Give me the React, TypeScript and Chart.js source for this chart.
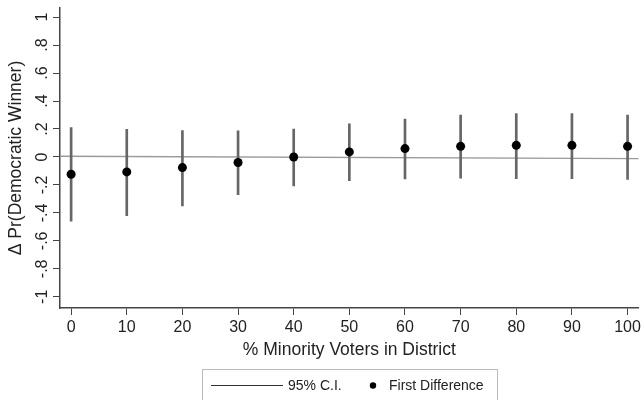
import React, { useEffect, useRef } from "react";
import { Chart, registerables } from "chart.js";
Chart.register(...registerables);

const minorityPct = [0, 10, 20, 30, 40, 50, 60, 70, 80, 90, 100];
const firstDiff = [-0.124, -0.107, -0.076, -0.04, 0.0, 0.036, 0.06, 0.076, 0.083, 0.083, 0.076];
const ciLow = [-0.46, -0.42, -0.35, -0.27, -0.207, -0.17, -0.157, -0.152, -0.155, -0.155, -0.16];
const ciHigh = [0.21, 0.198, 0.188, 0.186, 0.2, 0.236, 0.27, 0.3, 0.31, 0.31, 0.3];
const refLineX = [-2, 102];
const refLineY = [0.005, -0.012];
const xTickValues = [0, 10, 20, 30, 40, 50, 60, 70, 80, 90, 100];
const yTickValues = [-1, -0.8, -0.6, -0.4, -0.2, 0, 0.2, 0.4, 0.6, 0.8, 1];
const yTickLabels = ["-1", "-.8", "-.6", "-.4", "-.2", "0", ".2", ".4", ".6", ".8", "1"];
const legendLabels = ["95% C.I.", "First Difference"];
const xTitle = "% Minority Voters in District";
const yTitle = "\u0394 Pr(Democratic Winner)";

const FONT = "'Liberation Sans', Arial, sans-serif";
const AXIS = "#444";

export default function App() {
  const ref = useRef<HTMLCanvasElement | null>(null);
  useEffect(() => {
    document.body.style.margin = "0";
    const canvas = ref.current!;
    const overlay = {
      id: "overlay",
      afterDraw(chart: any) {
        const ctx = chart.ctx;
        const ys = chart.scales.y;
        const area = chart.chartArea;
        ctx.save();
        ctx.fillStyle = "#222";
        ctx.font = `16px ${FONT}`;
        ctx.textAlign = "center";
        ctx.textBaseline = "middle";
        yTickValues.forEach((v, i) => {
          const py = ys.getPixelForValue(v);
          ctx.save();
          ctx.translate(43, py);
          ctx.rotate(-Math.PI / 2);
          ctx.fillText(yTickLabels[i], 0, 0);
          ctx.restore();
        });
        // y title
        ctx.font = `17.5px ${FONT}`;
        ctx.save();
        ctx.translate(16, (area.top + area.bottom) / 2);
        ctx.rotate(-Math.PI / 2);
        ctx.fillText(yTitle, 0, 0);
        ctx.restore();
        // x title
        ctx.fillText(xTitle, (area.left + area.right) / 2, 350);
        // legend box
        ctx.strokeStyle = "#bbb";
        ctx.lineWidth = 1;
        ctx.strokeRect(202.5, 369.5, 295, 40);
        ctx.strokeStyle = "#333";
        ctx.beginPath();
        ctx.moveTo(211, 385.5);
        ctx.lineTo(283, 385.5);
        ctx.stroke();
        ctx.font = `14px ${FONT}`;
        ctx.textAlign = "left";
        ctx.fillText(legendLabels[0], 288, 386);
        ctx.fillStyle = "#000";
        ctx.beginPath();
        ctx.arc(373, 385.5, 3.2, 0, Math.PI * 2);
        ctx.fill();
        ctx.fillStyle = "#222";
        ctx.fillText(legendLabels[1], 389, 386);
        ctx.restore();
      },
    };
    const chart = new Chart(canvas, {
      type: "bar",
      data: {
        datasets: [
          {
            type: "scatter",
            data: minorityPct.map((x, i) => ({ x, y: firstDiff[i] })),
            pointRadius: 4.5,
            pointBackgroundColor: "#000",
            pointBorderWidth: 0,
            order: 0,
          } as any,
          {
            type: "bar",
            data: minorityPct.map((x, i) => ({ x, y: [ciLow[i], ciHigh[i]] })),
            backgroundColor: "#666",
            borderWidth: 0,
            barThickness: 2,
            order: 1,
          } as any,
          {
            type: "line",
            data: refLineX.map((x, i) => ({ x, y: refLineY[i] })),
            borderColor: "#9a9a9a",
            borderWidth: 1.3,
            pointRadius: 0,
            order: 2,
          } as any,
        ],
      },
      options: {
        animation: false,
        responsive: false,
        maintainAspectRatio: false,
        layout: { padding: { top: 8, right: 4, left: 0, bottom: 0 } },
        plugins: { legend: { display: false }, tooltip: { enabled: false } },
        scales: {
          x: {
            type: "linear",
            min: -2,
            max: 102,
            offset: false,
            afterBuildTicks: (s: any) => {
              s.ticks = xTickValues.map((v) => ({ value: v }));
            },
            afterFit: (s: any) => {
              s.height = 92;
            },
            ticks: {
              font: { family: FONT, size: 16 },
              color: "#222",
              padding: 3,
              maxRotation: 0,
              autoSkip: false,
            },
            grid: {
              display: true,
              drawOnChartArea: false,
              drawTicks: true,
              tickLength: 7,
              color: AXIS,
              offset: false,
            },
            border: { display: true, color: AXIS, width: 1.5 },
          },
          y: {
            type: "linear",
            min: -1.08,
            max: 1.065,
            afterBuildTicks: (s: any) => {
              s.ticks = yTickValues.map((v) => ({ value: v }));
            },
            afterFit: (s: any) => {
              s.width = 60;
            },
            ticks: { display: false },
            grid: {
              display: true,
              drawOnChartArea: false,
              drawTicks: true,
              tickLength: 7,
              color: AXIS,
            },
            border: { display: true, color: AXIS, width: 1.5 },
          },
        },
      } as any,
      plugins: [overlay],
    });
    return () => chart.destroy();
  }, []);
  return (
    <div style={{ width: 644, height: 400, background: "#fff" }}>
      <canvas ref={ref} width={644} height={400} style={{ display: "block" }} />
    </div>
  );
}
